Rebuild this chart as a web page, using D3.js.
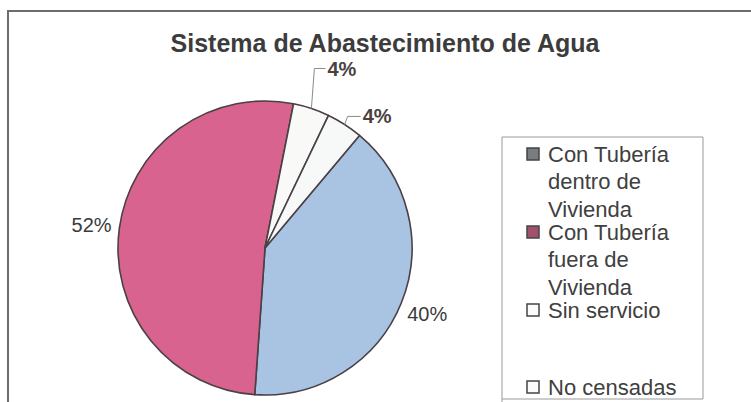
<!DOCTYPE html>
<html>
<head>
<meta charset="utf-8">
<script src="https://cdn.jsdelivr.net/npm/d3@7"></script>
<style>
  body { margin: 0; background: #fff; }
  svg { display: block; font-family: "Liberation Sans", Arial, sans-serif; }
</style>
</head>
<body>
<svg id="chart" width="751" height="402"></svg>
<script>
// data
const categories = ['Con Tubería dentro de Vivienda', 'Con Tubería fuera de Vivienda', 'Sin servicio', 'No censadas'];
const values = [40, 52, 4, 4];
const legendLines = [['Con Tubería', 'dentro de', 'Vivienda'], ['Con Tubería', 'fuera de', 'Vivienda'], ['Sin servicio'], ['No censadas']];
const title = 'Sistema de Abastecimiento de Agua';

const svg = d3.select('#chart');
const sliceFill = ['#a9c3e3', '#d8638f', '#f9f9f8', '#f7f8f8'];
const markFill = ['#7a7d80', '#a3506c', '#fbfbfb', '#fbfbfb'];

// frame
svg.append('path')
  .attr('d', 'M8,410 V11 H760')
  .attr('fill', 'none')
  .attr('stroke', '#6d6d6f')
  .attr('stroke-width', 2);

svg.append('text')
  .attr('x', 385)
  .attr('y', 52)
  .attr('text-anchor', 'middle')
  .attr('font-weight', 'bold')
  .attr('font-size', 25)
  .attr('fill', '#3c3c3c')
  .text(title);

// pie
const cx = 265, cy = 248, r = 147;
const deg = Math.PI / 180;
const pie = d3.pie().sort(null).startAngle(40 * deg).endAngle(400 * deg);
const arcs = pie(values);
const arc = d3.arc().innerRadius(0).outerRadius(r);

const g = svg.append('g').attr('transform', `translate(${cx},${cy})`);
g.selectAll('path.slice')
  .data(arcs)
  .enter()
  .append('path')
  .classed('slice', true)
  .attr('d', arc)
  .attr('fill', (d, i) => sliceFill[i])
  .attr('stroke', '#4a4046')
  .attr('stroke-width', 1.6)
  .attr('stroke-linejoin', 'round');

const pct = d3.format('.0%');
const total = d3.sum(values);
const mid = d => (d.startAngle + d.endAngle) / 2;
const onArc = (a, rad) => [Math.sin(a) * rad, -Math.cos(a) * rad];

// big slices: label just outside the rim; small ones get a leader
const leader = [null, null, { lift: 40, run: 11 }, { lift: 8, run: 13 }];

arcs.forEach((d, i) => {
  const a = mid(d);
  const txt = pct(d.value / total);
  if (!leader[i]) {
    const [x, y] = onArc(a, r + 28);
    g.append('text')
      .attr('x', x)
      .attr('y', y)
      .attr('dy', '0.35em')
      .attr('text-anchor', 'middle')
      .attr('font-size', 20)
      .attr('fill', '#3a3a3a')
      .text(txt);
  } else {
    const [x0, y0] = onArc(a, r);
    const ly = y0 - leader[i].lift;
    const lx = x0 + 3 + leader[i].run;
    g.append('polyline')
      .attr('points', [[x0, y0], [x0 + 3, ly], [lx, ly]].map(p => p.join(',')).join(' '))
      .attr('fill', 'none')
      .attr('stroke', '#8a8a8a')
      .attr('stroke-width', 1);
    g.append('text')
      .attr('x', lx + 2)
      .attr('y', ly)
      .attr('dy', '0.35em')
      .attr('font-size', 20)
      .attr('font-weight', 'bold')
      .attr('fill', '#4a4242')
      .text(txt);
  }
});

// legend
svg.append('path')
  .attr('d', 'M502,410 V137 H703 V399 H502')
  .attr('fill', 'none')
  .attr('stroke', '#9a9a9a')
  .attr('stroke-width', 1);

const itemY = [154, 232, 310, 387];
const lineH = 27.5;
const legend = svg.selectAll('g.legend')
  .data(categories)
  .enter()
  .append('g')
  .classed('legend', true)
  .attr('transform', (d, i) => `translate(527,${itemY[i]})`);

legend.append('rect')
  .attr('x', 0)
  .attr('y', -6)
  .attr('width', 12)
  .attr('height', 12)
  .attr('fill', (d, i) => markFill[i])
  .attr('stroke', '#444')
  .attr('stroke-width', 1.5);

legend.each(function (d, i) {
  d3.select(this).selectAll('text')
    .data(legendLines[i])
    .enter()
    .append('text')
    .attr('x', 21)
    .attr('y', (t, j) => j * lineH)
    .attr('dy', '0.36em')
    .attr('font-size', 22)
    .attr('fill', '#404040')
    .text(t => t);
});
</script>
</body>
</html>
